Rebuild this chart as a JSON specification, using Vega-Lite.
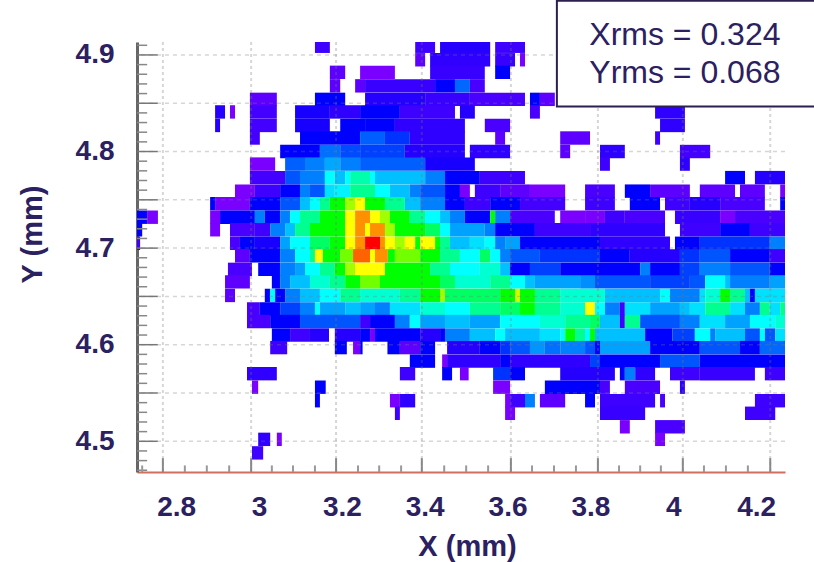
{"$schema":"https://vega.github.io/schema/vega-lite/v6.json","width":648,"height":430,"autosize":"none","padding":{"left":137,"top":42,"right":29,"bottom":90},"background":"white","config":{"view":{"stroke":null}},
"datasets":{"cells":[
{"a":3.135,"b":3.171,"y":4.909,"v":1.5},{"a":3.377,"b":3.425,"y":4.909,"v":1.5},{"a":3.437,"b":3.558,"y":4.909,"v":1.8},{"a":3.570,"b":3.642,"y":4.909,"v":1.5},
{"a":3.377,"b":3.401,"y":4.895,"v":1.2},{"a":3.413,"b":3.558,"y":4.895,"v":1.7},{"a":3.570,"b":3.618,"y":4.895,"v":1.6},{"a":3.630,"b":3.642,"y":4.895,"v":1},
{"a":3.171,"b":3.208,"y":4.882,"v":1.2},{"a":3.244,"b":3.328,"y":4.882,"v":1},{"a":3.413,"b":3.545,"y":4.882,"v":1.6},{"a":3.570,"b":3.606,"y":4.882,"v":2},
{"a":3.171,"b":3.196,"y":4.868,"v":1.2},{"a":3.232,"b":3.256,"y":4.868,"v":1.2},{"a":3.256,"b":3.425,"y":4.868,"v":1.6},{"a":3.425,"b":3.473,"y":4.868,"v":2},{"a":3.473,"b":3.509,"y":4.868,"v":2.7},{"a":3.509,"b":3.545,"y":4.868,"v":1.3},
{"a":2.978,"b":3.043,"y":4.854,"v":1.2},{"a":3.135,"b":3.208,"y":4.854,"v":2},{"a":3.256,"b":3.401,"y":4.854,"v":1.8},{"a":3.401,"b":3.509,"y":4.854,"v":1.6},{"a":3.509,"b":3.642,"y":4.854,"v":1.3},{"a":3.654,"b":3.678,"y":4.854,"v":2},{"a":3.678,"b":3.714,"y":4.854,"v":1.2},
{"a":2.894,"b":2.918,"y":4.841,"v":1.8},{"a":2.930,"b":2.942,"y":4.841,"v":1},{"a":2.978,"b":3.043,"y":4.841,"v":1.4},{"a":3.087,"b":3.171,"y":4.841,"v":1.9},{"a":3.171,"b":3.244,"y":4.841,"v":1.7},{"a":3.244,"b":3.340,"y":4.841,"v":2},{"a":3.340,"b":3.473,"y":4.841,"v":1.5},{"a":3.485,"b":3.521,"y":4.841,"v":1.8},{"a":3.654,"b":3.678,"y":4.841,"v":1.3},{"a":3.956,"b":4.028,"y":4.841,"v":1.7},
{"a":2.894,"b":2.906,"y":4.827,"v":1.8},{"a":2.978,"b":3.043,"y":4.827,"v":1.4},{"a":3.087,"b":3.171,"y":4.827,"v":1.9},{"a":3.196,"b":3.256,"y":4.827,"v":2},{"a":3.256,"b":3.328,"y":4.827,"v":2},{"a":3.328,"b":3.497,"y":4.827,"v":1.7},{"a":3.545,"b":3.606,"y":4.827,"v":1.3},{"a":3.968,"b":4.028,"y":4.827,"v":1.7},
{"a":2.978,"b":3.002,"y":4.814,"v":1.4},{"a":3.099,"b":3.244,"y":4.814,"v":2},{"a":3.244,"b":3.304,"y":4.814,"v":2.6},{"a":3.304,"b":3.364,"y":4.814,"v":2.2},{"a":3.364,"b":3.497,"y":4.814,"v":1.7},{"a":3.570,"b":3.594,"y":4.814,"v":1.2},{"a":3.727,"b":3.799,"y":4.814,"v":1.2},{"a":3.956,"b":3.968,"y":4.814,"v":1.5},
{"a":3.051,"b":3.147,"y":4.8,"v":2},{"a":3.147,"b":3.196,"y":4.8,"v":2.8},{"a":3.196,"b":3.244,"y":4.8,"v":2.4},{"a":3.244,"b":3.352,"y":4.8,"v":2.3},{"a":3.352,"b":3.497,"y":4.8,"v":1.8},{"a":3.509,"b":3.606,"y":4.8,"v":1.7},{"a":3.727,"b":3.751,"y":4.8,"v":1.2},{"a":3.823,"b":3.883,"y":4.8,"v":1.7},{"a":4.016,"b":4.089,"y":4.8,"v":1.4},
{"a":2.978,"b":3.039,"y":4.787,"v":1},{"a":3.063,"b":3.111,"y":4.787,"v":2.6},{"a":3.111,"b":3.159,"y":4.787,"v":3},{"a":3.159,"b":3.196,"y":4.787,"v":3.6},{"a":3.196,"b":3.244,"y":4.787,"v":3},{"a":3.244,"b":3.401,"y":4.787,"v":2.6},{"a":3.401,"b":3.521,"y":4.787,"v":1.9},{"a":3.823,"b":3.847,"y":4.787,"v":1.5},{"a":4.016,"b":4.04,"y":4.787,"v":1.7},
{"a":2.978,"b":3.063,"y":4.773,"v":1.4},{"a":3.063,"b":3.099,"y":4.773,"v":2.5},{"a":3.099,"b":3.159,"y":4.773,"v":3},{"a":3.159,"b":3.183,"y":4.773,"v":5},{"a":3.183,"b":3.208,"y":4.773,"v":4},{"a":3.208,"b":3.220,"y":4.773,"v":5},{"a":3.220,"b":3.268,"y":4.773,"v":5.8},{"a":3.268,"b":3.280,"y":4.773,"v":5},{"a":3.280,"b":3.401,"y":4.773,"v":4},{"a":3.401,"b":3.449,"y":4.773,"v":3},{"a":3.449,"b":3.533,"y":4.773,"v":2},{"a":3.533,"b":3.642,"y":4.773,"v":1.5},{"a":4.125,"b":4.173,"y":4.773,"v":2},{"a":4.197,"b":4.270,"y":4.773,"v":1.8},
{"a":2.942,"b":2.990,"y":4.759,"v":1},{"a":2.990,"b":3.051,"y":4.759,"v":1.5},{"a":3.051,"b":3.099,"y":4.759,"v":2},{"a":3.099,"b":3.123,"y":4.759,"v":3},{"a":3.123,"b":3.159,"y":4.759,"v":2.5},{"a":3.159,"b":3.183,"y":4.759,"v":4.5},{"a":3.183,"b":3.220,"y":4.759,"v":4.8},{"a":3.220,"b":3.280,"y":4.759,"v":6},{"a":3.280,"b":3.316,"y":4.759,"v":5},{"a":3.316,"b":3.364,"y":4.759,"v":4},{"a":3.364,"b":3.389,"y":4.759,"v":3},{"a":3.389,"b":3.449,"y":4.759,"v":2.5},{"a":3.449,"b":3.485,"y":4.759,"v":2},{"a":3.485,"b":3.509,"y":4.759,"v":1},{"a":3.521,"b":3.582,"y":4.759,"v":1.5},{"a":3.582,"b":3.654,"y":4.759,"v":1.2},{"a":3.654,"b":3.739,"y":4.759,"v":1},{"a":3.787,"b":3.859,"y":4.759,"v":1.3},{"a":3.883,"b":3.944,"y":4.759,"v":2},{"a":3.944,"b":4.04,"y":4.759,"v":1.2},{"a":4.064,"b":4.149,"y":4.759,"v":1.2},{"a":4.161,"b":4.221,"y":4.759,"v":1.2},{"a":4.258,"b":4.270,"y":4.759,"v":1},
{"a":2.882,"b":2.894,"y":4.746,"v":2},{"a":2.894,"b":2.978,"y":4.746,"v":1},{"a":2.978,"b":3.051,"y":4.746,"v":2},{"a":3.051,"b":3.099,"y":4.746,"v":2.5},{"a":3.099,"b":3.123,"y":4.746,"v":4},{"a":3.123,"b":3.147,"y":4.746,"v":5},{"a":3.147,"b":3.171,"y":4.746,"v":6},{"a":3.171,"b":3.208,"y":4.746,"v":7},{"a":3.208,"b":3.232,"y":4.746,"v":8},{"a":3.232,"b":3.256,"y":4.746,"v":9},{"a":3.256,"b":3.304,"y":4.746,"v":7},{"a":3.304,"b":3.352,"y":4.746,"v":6},{"a":3.352,"b":3.389,"y":4.746,"v":4},{"a":3.389,"b":3.449,"y":4.746,"v":3},{"a":3.449,"b":3.497,"y":4.746,"v":2},{"a":3.497,"b":3.558,"y":4.746,"v":1.5},{"a":3.558,"b":3.630,"y":4.746,"v":2},{"a":3.630,"b":3.739,"y":4.746,"v":1.4},{"a":3.787,"b":3.859,"y":4.746,"v":1.5},{"a":3.895,"b":3.968,"y":4.746,"v":2},{"a":3.980,"b":4.04,"y":4.746,"v":1.5},{"a":4.04,"b":4.113,"y":4.746,"v":1.8},{"a":4.113,"b":4.221,"y":4.746,"v":1.3},{"a":4.258,"b":4.270,"y":4.746,"v":2},
{"a":2.705,"b":2.730,"y":4.732,"v":2},{"a":2.730,"b":2.756,"y":4.732,"v":1},{"a":2.882,"b":2.906,"y":4.732,"v":1},{"a":2.906,"b":2.990,"y":4.732,"v":2},{"a":2.990,"b":3.014,"y":4.732,"v":3},{"a":3.014,"b":3.051,"y":4.732,"v":2},{"a":3.051,"b":3.075,"y":4.732,"v":3},{"a":3.075,"b":3.099,"y":4.732,"v":5},{"a":3.099,"b":3.147,"y":4.732,"v":6},{"a":3.147,"b":3.208,"y":4.732,"v":7},{"a":3.208,"b":3.232,"y":4.732,"v":9},{"a":3.232,"b":3.268,"y":4.732,"v":10},{"a":3.268,"b":3.292,"y":4.732,"v":9},{"a":3.292,"b":3.316,"y":4.732,"v":8},{"a":3.316,"b":3.364,"y":4.732,"v":7},{"a":3.364,"b":3.401,"y":4.732,"v":6},{"a":3.401,"b":3.437,"y":4.732,"v":5},{"a":3.437,"b":3.461,"y":4.732,"v":4},{"a":3.461,"b":3.497,"y":4.732,"v":3},{"a":3.497,"b":3.558,"y":4.732,"v":2},{"a":3.558,"b":3.570,"y":4.732,"v":7},{"a":3.570,"b":3.606,"y":4.732,"v":3},{"a":3.606,"b":3.714,"y":4.732,"v":1.3},{"a":3.727,"b":3.787,"y":4.732,"v":1},{"a":3.787,"b":3.835,"y":4.732,"v":1},{"a":3.835,"b":3.883,"y":4.732,"v":1.5},{"a":3.883,"b":3.980,"y":4.732,"v":1.3},{"a":4.004,"b":4.113,"y":4.732,"v":1.6},{"a":4.113,"b":4.149,"y":4.732,"v":1},{"a":4.149,"b":4.270,"y":4.732,"v":1.3},
{"a":2.705,"b":2.718,"y":4.719,"v":2},{"a":2.882,"b":2.906,"y":4.719,"v":1},{"a":2.930,"b":2.990,"y":4.719,"v":1.3},{"a":2.990,"b":3.027,"y":4.719,"v":1.5},{"a":3.027,"b":3.063,"y":4.719,"v":3},{"a":3.063,"b":3.087,"y":4.719,"v":4},{"a":3.087,"b":3.123,"y":4.719,"v":6},{"a":3.123,"b":3.208,"y":4.719,"v":7},{"a":3.208,"b":3.232,"y":4.719,"v":9},{"a":3.232,"b":3.256,"y":4.719,"v":10},{"a":3.256,"b":3.268,"y":4.719,"v":9},{"a":3.268,"b":3.304,"y":4.719,"v":10},{"a":3.304,"b":3.328,"y":4.719,"v":8},{"a":3.328,"b":3.401,"y":4.719,"v":7},{"a":3.401,"b":3.437,"y":4.719,"v":6.5},{"a":3.437,"b":3.461,"y":4.719,"v":5},{"a":3.461,"b":3.545,"y":4.719,"v":3.5},{"a":3.545,"b":3.570,"y":4.719,"v":3},{"a":3.570,"b":3.666,"y":4.719,"v":2},{"a":3.666,"b":3.799,"y":4.719,"v":1.5},{"a":3.799,"b":3.980,"y":4.719,"v":1.7},{"a":4.016,"b":4.113,"y":4.719,"v":1.5},{"a":4.113,"b":4.185,"y":4.719,"v":2},{"a":4.185,"b":4.270,"y":4.719,"v":1.5},
{"a":2.705,"b":2.713,"y":4.705,"v":1.5},{"a":2.930,"b":2.954,"y":4.705,"v":1.3},{"a":2.954,"b":2.990,"y":4.705,"v":2},{"a":2.990,"b":3.051,"y":4.705,"v":1.9},{"a":3.051,"b":3.075,"y":4.705,"v":3.5},{"a":3.075,"b":3.123,"y":4.705,"v":5},{"a":3.123,"b":3.171,"y":4.705,"v":6.5},{"a":3.171,"b":3.208,"y":4.705,"v":7},{"a":3.208,"b":3.232,"y":4.705,"v":9},{"a":3.232,"b":3.256,"y":4.705,"v":10},{"a":3.256,"b":3.292,"y":4.705,"v":11},{"a":3.292,"b":3.304,"y":4.705,"v":10},{"a":3.304,"b":3.328,"y":4.705,"v":9},{"a":3.328,"b":3.352,"y":4.705,"v":8},{"a":3.352,"b":3.377,"y":4.705,"v":9},{"a":3.377,"b":3.389,"y":4.705,"v":7},{"a":3.389,"b":3.425,"y":4.705,"v":9},{"a":3.425,"b":3.437,"y":4.705,"v":7},{"a":3.437,"b":3.461,"y":4.705,"v":6},{"a":3.461,"b":3.509,"y":4.705,"v":4},{"a":3.509,"b":3.545,"y":4.705,"v":4.5},{"a":3.545,"b":3.570,"y":4.705,"v":5},{"a":3.570,"b":3.594,"y":4.705,"v":3},{"a":3.594,"b":3.630,"y":4.705,"v":3.5},{"a":3.630,"b":3.823,"y":4.705,"v":2},{"a":3.823,"b":3.992,"y":4.705,"v":1.7},{"a":4.004,"b":4.064,"y":4.705,"v":2},{"a":4.064,"b":4.233,"y":4.705,"v":2.2},{"a":4.233,"b":4.270,"y":4.705,"v":3},
{"a":2.942,"b":2.978,"y":4.692,"v":1.2},{"a":2.978,"b":3.051,"y":4.692,"v":2},{"a":3.051,"b":3.087,"y":4.692,"v":3},{"a":3.087,"b":3.123,"y":4.692,"v":5},{"a":3.123,"b":3.135,"y":4.692,"v":6},{"a":3.135,"b":3.154,"y":4.692,"v":9},{"a":3.154,"b":3.196,"y":4.692,"v":7},{"a":3.196,"b":3.227,"y":4.692,"v":7.5},{"a":3.227,"b":3.268,"y":4.692,"v":10.5},{"a":3.268,"b":3.280,"y":4.692,"v":9},{"a":3.280,"b":3.311,"y":4.692,"v":10},{"a":3.311,"b":3.328,"y":4.692,"v":7},{"a":3.328,"b":3.389,"y":4.692,"v":7.5},{"a":3.389,"b":3.437,"y":4.692,"v":7},{"a":3.437,"b":3.485,"y":4.692,"v":6},{"a":3.485,"b":3.533,"y":4.692,"v":5},{"a":3.533,"b":3.558,"y":4.692,"v":6.5},{"a":3.558,"b":3.582,"y":4.692,"v":5},{"a":3.582,"b":3.606,"y":4.692,"v":3},{"a":3.606,"b":3.678,"y":4.692,"v":2.5},{"a":3.678,"b":3.823,"y":4.692,"v":2.2},{"a":3.823,"b":3.895,"y":4.692,"v":2},{"a":3.895,"b":4.016,"y":4.692,"v":1.8},{"a":4.016,"b":4.064,"y":4.692,"v":2.2},{"a":4.064,"b":4.137,"y":4.692,"v":2.5},{"a":4.137,"b":4.233,"y":4.692,"v":2},{"a":4.233,"b":4.270,"y":4.692,"v":1.5},
{"a":2.925,"b":2.983,"y":4.678,"v":1.3},{"a":2.998,"b":3.051,"y":4.678,"v":2},{"a":3.051,"b":3.087,"y":4.678,"v":3},{"a":3.087,"b":3.111,"y":4.678,"v":3.5},{"a":3.111,"b":3.147,"y":4.678,"v":5},{"a":3.147,"b":3.183,"y":4.678,"v":6},{"a":3.183,"b":3.208,"y":4.678,"v":7},{"a":3.208,"b":3.232,"y":4.678,"v":8},{"a":3.232,"b":3.304,"y":4.678,"v":9},{"a":3.304,"b":3.413,"y":4.678,"v":7},{"a":3.413,"b":3.461,"y":4.678,"v":6},{"a":3.461,"b":3.533,"y":4.678,"v":5},{"a":3.533,"b":3.582,"y":4.678,"v":5.5},{"a":3.582,"b":3.606,"y":4.678,"v":4},{"a":3.606,"b":3.654,"y":4.678,"v":2},{"a":3.654,"b":3.727,"y":4.678,"v":2.3},{"a":3.727,"b":3.920,"y":4.678,"v":2},{"a":3.920,"b":3.944,"y":4.678,"v":3},{"a":3.944,"b":4.016,"y":4.678,"v":2},{"a":4.016,"b":4.064,"y":4.678,"v":2.3},{"a":4.064,"b":4.137,"y":4.678,"v":3},{"a":4.137,"b":4.233,"y":4.678,"v":2.5},{"a":4.233,"b":4.270,"y":4.678,"v":2},
{"a":2.918,"b":2.978,"y":4.665,"v":1.2},{"a":3.031,"b":3.051,"y":4.665,"v":2},{"a":3.051,"b":3.075,"y":4.665,"v":3},{"a":3.075,"b":3.123,"y":4.665,"v":4},{"a":3.123,"b":3.171,"y":4.665,"v":5.5},{"a":3.171,"b":3.208,"y":4.665,"v":6},{"a":3.208,"b":3.244,"y":4.665,"v":7},{"a":3.244,"b":3.292,"y":4.665,"v":7.5},{"a":3.292,"b":3.437,"y":4.665,"v":7},{"a":3.437,"b":3.473,"y":4.665,"v":6.5},{"a":3.473,"b":3.558,"y":4.665,"v":5.5},{"a":3.558,"b":3.606,"y":4.665,"v":6},{"a":3.606,"b":3.642,"y":4.665,"v":5},{"a":3.642,"b":3.666,"y":4.665,"v":4},{"a":3.666,"b":3.775,"y":4.665,"v":3.5},{"a":3.775,"b":3.811,"y":4.665,"v":3.2},{"a":3.811,"b":3.944,"y":4.665,"v":2.5},{"a":3.944,"b":4.04,"y":4.665,"v":2.3},{"a":4.04,"b":4.077,"y":4.665,"v":2.5},{"a":4.077,"b":4.125,"y":4.665,"v":5},{"a":4.125,"b":4.137,"y":4.665,"v":4},{"a":4.137,"b":4.233,"y":4.665,"v":3},{"a":4.233,"b":4.270,"y":4.665,"v":3.5},
{"a":2.918,"b":2.942,"y":4.651,"v":1.2},{"a":3.014,"b":3.027,"y":4.651,"v":2},{"a":3.027,"b":3.039,"y":4.651,"v":5},{"a":3.039,"b":3.063,"y":4.651,"v":2},{"a":3.063,"b":3.099,"y":4.651,"v":3},{"a":3.099,"b":3.147,"y":4.651,"v":4},{"a":3.147,"b":3.196,"y":4.651,"v":5},{"a":3.196,"b":3.244,"y":4.651,"v":6},{"a":3.244,"b":3.340,"y":4.651,"v":5.5},{"a":3.340,"b":3.389,"y":4.651,"v":6},{"a":3.389,"b":3.437,"y":4.651,"v":7},{"a":3.437,"b":3.449,"y":4.651,"v":8},{"a":3.449,"b":3.582,"y":4.651,"v":6.5},{"a":3.582,"b":3.618,"y":4.651,"v":7},{"a":3.618,"b":3.630,"y":4.651,"v":8.5},{"a":3.630,"b":3.666,"y":4.651,"v":7},{"a":3.666,"b":3.727,"y":4.651,"v":6},{"a":3.727,"b":3.835,"y":4.651,"v":5.5},{"a":3.835,"b":3.968,"y":4.651,"v":4},{"a":3.968,"b":3.992,"y":4.651,"v":5},{"a":3.992,"b":4.064,"y":4.651,"v":3},{"a":4.064,"b":4.077,"y":4.651,"v":4.5},{"a":4.077,"b":4.113,"y":4.651,"v":5.5},{"a":4.113,"b":4.137,"y":4.651,"v":7},{"a":4.137,"b":4.173,"y":4.651,"v":6},{"a":4.173,"b":4.185,"y":4.651,"v":4},{"a":4.185,"b":4.197,"y":4.651,"v":2},{"a":4.197,"b":4.270,"y":4.651,"v":4.5},
{"a":2.971,"b":3.002,"y":4.637,"v":1.3},{"a":3.002,"b":3.051,"y":4.637,"v":2},{"a":3.051,"b":3.099,"y":4.637,"v":2.3},{"a":3.099,"b":3.135,"y":4.637,"v":3},{"a":3.135,"b":3.147,"y":4.637,"v":5},{"a":3.147,"b":3.208,"y":4.637,"v":3.5},{"a":3.208,"b":3.244,"y":4.637,"v":4},{"a":3.244,"b":3.280,"y":4.637,"v":3.5},{"a":3.280,"b":3.316,"y":4.637,"v":3},{"a":3.316,"b":3.389,"y":4.637,"v":4.5},{"a":3.389,"b":3.449,"y":4.637,"v":5.5},{"a":3.449,"b":3.509,"y":4.637,"v":5},{"a":3.509,"b":3.582,"y":4.637,"v":6},{"a":3.582,"b":3.630,"y":4.637,"v":6.5},{"a":3.630,"b":3.666,"y":4.637,"v":7},{"a":3.666,"b":3.727,"y":4.637,"v":6},{"a":3.727,"b":3.787,"y":4.637,"v":5.5},{"a":3.787,"b":3.811,"y":4.637,"v":9},{"a":3.811,"b":3.835,"y":4.637,"v":5},{"a":3.835,"b":3.871,"y":4.637,"v":3},{"a":3.871,"b":3.883,"y":4.637,"v":1.5},{"a":3.883,"b":3.944,"y":4.637,"v":4.5},{"a":3.944,"b":4.016,"y":4.637,"v":3.5},{"a":4.016,"b":4.04,"y":4.637,"v":4},{"a":4.04,"b":4.077,"y":4.637,"v":4.5},{"a":4.077,"b":4.137,"y":4.637,"v":6},{"a":4.137,"b":4.173,"y":4.637,"v":4.5},{"a":4.173,"b":4.209,"y":4.637,"v":3},{"a":4.209,"b":4.233,"y":4.637,"v":6},{"a":4.233,"b":4.258,"y":4.637,"v":4.5},{"a":4.258,"b":4.270,"y":4.637,"v":6},
{"a":2.971,"b":3.027,"y":4.624,"v":1.3},{"a":3.027,"b":3.099,"y":4.624,"v":2},{"a":3.099,"b":3.244,"y":4.624,"v":2.5},{"a":3.244,"b":3.268,"y":4.624,"v":1.5},{"a":3.268,"b":3.328,"y":4.624,"v":2},{"a":3.328,"b":3.364,"y":4.624,"v":3},{"a":3.364,"b":3.389,"y":4.624,"v":5},{"a":3.389,"b":3.449,"y":4.624,"v":3.5},{"a":3.449,"b":3.509,"y":4.624,"v":4},{"a":3.509,"b":3.582,"y":4.624,"v":3.5},{"a":3.582,"b":3.678,"y":4.624,"v":5},{"a":3.678,"b":3.739,"y":4.624,"v":5.5},{"a":3.739,"b":3.799,"y":4.624,"v":6},{"a":3.799,"b":3.823,"y":4.624,"v":6.5},{"a":3.823,"b":3.871,"y":4.624,"v":4},{"a":3.871,"b":3.883,"y":4.624,"v":1.5},{"a":3.883,"b":3.920,"y":4.624,"v":6},{"a":3.920,"b":4.016,"y":4.624,"v":2.5},{"a":4.016,"b":4.064,"y":4.624,"v":3},{"a":4.064,"b":4.125,"y":4.624,"v":4.5},{"a":4.125,"b":4.185,"y":4.624,"v":3.5},{"a":4.185,"b":4.246,"y":4.624,"v":5},{"a":4.246,"b":4.270,"y":4.624,"v":5.5},
{"a":3.031,"b":3.075,"y":4.61,"v":2},{"a":3.075,"b":3.123,"y":4.61,"v":1.5},{"a":3.123,"b":3.169,"y":4.61,"v":1.8},{"a":3.183,"b":3.244,"y":4.61,"v":1.8},{"a":3.244,"b":3.268,"y":4.61,"v":2},{"a":3.268,"b":3.280,"y":4.61,"v":1},{"a":3.280,"b":3.389,"y":4.61,"v":2},{"a":3.389,"b":3.437,"y":4.61,"v":1.8},{"a":3.437,"b":3.449,"y":4.61,"v":2},{"a":3.449,"b":3.509,"y":4.61,"v":3},{"a":3.509,"b":3.570,"y":4.61,"v":4},{"a":3.570,"b":3.594,"y":4.61,"v":5},{"a":3.594,"b":3.678,"y":4.61,"v":4},{"a":3.678,"b":3.727,"y":4.61,"v":4.5},{"a":3.727,"b":3.739,"y":4.61,"v":5},{"a":3.739,"b":3.763,"y":4.61,"v":7},{"a":3.763,"b":3.787,"y":4.61,"v":6},{"a":3.787,"b":3.799,"y":4.61,"v":5},{"a":3.799,"b":3.811,"y":4.61,"v":7},{"a":3.811,"b":3.932,"y":4.61,"v":4},{"a":3.932,"b":3.998,"y":4.61,"v":2},{"a":3.998,"b":4.052,"y":4.61,"v":2.3},{"a":4.052,"b":4.089,"y":4.61,"v":5},{"a":4.089,"b":4.101,"y":4.61,"v":3},{"a":4.101,"b":4.173,"y":4.61,"v":4},{"a":4.173,"b":4.209,"y":4.61,"v":2.5},{"a":4.209,"b":4.221,"y":4.61,"v":5},{"a":4.221,"b":4.246,"y":4.61,"v":2.5},{"a":4.246,"b":4.270,"y":4.61,"v":4.5},
{"a":3.027,"b":3.068,"y":4.597,"v":1.5},{"a":3.183,"b":3.212,"y":4.597,"v":2},{"a":3.227,"b":3.244,"y":4.597,"v":1},{"a":3.244,"b":3.25,"y":4.597,"v":2},{"a":3.310,"b":3.340,"y":4.597,"v":2},{"a":3.340,"b":3.389,"y":4.597,"v":1.2},{"a":3.389,"b":3.425,"y":4.597,"v":2},{"a":3.454,"b":3.533,"y":4.597,"v":1.8},{"a":3.533,"b":3.582,"y":4.597,"v":2},{"a":3.582,"b":3.606,"y":4.597,"v":2.2},{"a":3.606,"b":3.654,"y":4.597,"v":2.5},{"a":3.654,"b":3.690,"y":4.597,"v":3.3},{"a":3.690,"b":3.727,"y":4.597,"v":2.8},{"a":3.727,"b":3.787,"y":4.597,"v":3},{"a":3.787,"b":3.811,"y":4.597,"v":2.5},{"a":3.811,"b":3.823,"y":4.597,"v":2},{"a":3.823,"b":3.944,"y":4.597,"v":3.5},{"a":3.944,"b":4.064,"y":4.597,"v":2},{"a":4.064,"b":4.161,"y":4.597,"v":2.5},{"a":4.161,"b":4.209,"y":4.597,"v":2},{"a":4.209,"b":4.270,"y":4.597,"v":2.7},
{"a":3.364,"b":3.425,"y":4.583,"v":2},{"a":3.442,"b":3.454,"y":4.583,"v":1},{"a":3.454,"b":3.582,"y":4.583,"v":1.7},{"a":3.582,"b":3.606,"y":4.583,"v":2},{"a":3.606,"b":3.799,"y":4.583,"v":1.7},{"a":3.799,"b":3.823,"y":4.583,"v":2.3},{"a":3.823,"b":3.968,"y":4.583,"v":2},{"a":3.968,"b":4.064,"y":4.583,"v":2.5},{"a":4.064,"b":4.270,"y":4.583,"v":2},
{"a":2.971,"b":3.043,"y":4.57,"v":1.7},{"a":3.340,"b":3.377,"y":4.57,"v":1.5},{"a":3.442,"b":3.466,"y":4.57,"v":2},{"a":3.485,"b":3.506,"y":4.57,"v":1},{"a":3.565,"b":3.606,"y":4.57,"v":2.2},{"a":3.606,"b":3.642,"y":4.57,"v":2},{"a":3.727,"b":3.859,"y":4.57,"v":1.8},{"a":3.871,"b":3.883,"y":4.57,"v":2},{"a":3.883,"b":3.908,"y":4.57,"v":3},{"a":3.908,"b":3.956,"y":4.57,"v":1.7},{"a":3.992,"b":4.064,"y":4.57,"v":1.5},{"a":4.064,"b":4.197,"y":4.57,"v":1.6},{"a":4.221,"b":4.270,"y":4.57,"v":1.5},
{"a":2.983,"b":2.998,"y":4.556,"v":1},{"a":3.135,"b":3.161,"y":4.556,"v":2},{"a":3.565,"b":3.606,"y":4.556,"v":1},{"a":3.690,"b":3.823,"y":4.556,"v":2},{"a":3.823,"b":3.847,"y":4.556,"v":1.3},{"a":3.883,"b":3.968,"y":4.556,"v":1.3},{"a":4.016,"b":4.028,"y":4.556,"v":1.7},
{"a":3.135,"b":3.147,"y":4.542,"v":2},{"a":3.316,"b":3.340,"y":4.542,"v":1},{"a":3.340,"b":3.377,"y":4.542,"v":1.7},{"a":3.594,"b":3.606,"y":4.542,"v":1},{"a":3.606,"b":3.642,"y":4.542,"v":1.5},{"a":3.642,"b":3.666,"y":4.542,"v":3},{"a":3.678,"b":3.739,"y":4.542,"v":1.2},{"a":3.787,"b":3.811,"y":4.542,"v":2},{"a":3.823,"b":3.956,"y":4.542,"v":1.5},{"a":3.968,"b":3.980,"y":4.542,"v":1.3},{"a":4.197,"b":4.270,"y":4.542,"v":1.5},
{"a":3.328,"b":3.340,"y":4.529,"v":1.5},{"a":3.594,"b":3.618,"y":4.529,"v":1},{"a":3.823,"b":3.932,"y":4.529,"v":1.6},{"a":4.173,"b":4.246,"y":4.529,"v":1.5},
{"a":3.871,"b":3.895,"y":4.515,"v":1},{"a":3.956,"b":4.028,"y":4.515,"v":1.3},
{"a":2.998,"b":3.027,"y":4.502,"v":1.7},{"a":3.043,"b":3.055,"y":4.502,"v":1},{"a":3.956,"b":3.980,"y":4.502,"v":1},
{"a":2.983,"b":3.010,"y":4.488,"v":1.5}
],
"hgrid":[{"gy":4.9},{"gy":4.85},{"gy":4.8},{"gy":4.75},{"gy":4.7},{"gy":4.65},{"gy":4.6},{"gy":4.55},{"gy":4.5}],
"vgrid":[{"gx":2.768},{"gx":2.981},{"gx":3.186},{"gx":3.393},{"gx":3.608},{"gx":3.818},{"gx":4.023},{"gx":4.234}],
"lminor":[{"gy":4.91},{"gy":4.89},{"gy":4.88},{"gy":4.87},{"gy":4.86},{"gy":4.84},{"gy":4.83},{"gy":4.82},{"gy":4.81},{"gy":4.79},{"gy":4.78},{"gy":4.77},{"gy":4.76},{"gy":4.74},{"gy":4.73},{"gy":4.72},{"gy":4.71},{"gy":4.69},{"gy":4.68},{"gy":4.67},{"gy":4.66},{"gy":4.64},{"gy":4.63},{"gy":4.62},{"gy":4.61},{"gy":4.59},{"gy":4.58},{"gy":4.57},{"gy":4.56},{"gy":4.54},{"gy":4.53},{"gy":4.52},{"gy":4.51},{"gy":4.49},{"gy":4.48},{"gy":4.47}],
"bminor":[{"gx":2.718},{"gx":2.821},{"gx":2.874},{"gx":2.928},{"gx":3.031},{"gx":3.082},{"gx":3.135},{"gx":3.239},{"gx":3.29},{"gx":3.343},{"gx":3.447},{"gx":3.5},{"gx":3.553},{"gx":3.659},{"gx":3.712},{"gx":3.765},{"gx":3.869},{"gx":3.92},{"gx":3.97},{"gx":4.074},{"gx":4.127},{"gx":4.18}],
"stats":[{"tx":4.028,"ty":4.9207,"t":"Xrms = 0.324"},{"tx":4.028,"ty":4.8814,"t":"Yrms = 0.068"}],
"box":[{"x0":3.719,"x1":4.36,"y0":4.956,"y1":4.8465}]
},
"layer":[
{"data":{"name":"cells"},"mark":{"type":"rect","height":13.4,"clip":true},"encoding":{
"x":{"field":"a","type":"quantitative","scale":{"domain":[2.7055,4.2696],"nice":false,"zero":false},"axis":{"values":[2.8,3,3.2,3.4,3.6,3.8,4,4.2],"format":".1~f","grid":false,"ticks":false,"domainColor":"#d0705f","domainWidth":2,"labelFont":"Liberation Sans","labelFontSize":28,"labelFontWeight":"bold","labelColor":"#2b2060","labelPadding":21,"labelFlush":false,"title":"X (mm)","titleFont":"Liberation Sans","titleFontSize":29,"titleFontWeight":"bold","titleColor":"#2b2060","titleX":330,"titleY":60,"titleAnchor":"middle"}},
"x2":{"field":"b"},
"y":{"field":"y","type":"quantitative","scale":{"domain":[4.4682,4.9134],"nice":false,"zero":false},"axis":{"values":[4.5,4.6,4.7,4.8,4.9],"format":".1f","grid":false,"ticks":false,"domainColor":"#666666","domainWidth":3,"labelFont":"Liberation Sans","labelFontSize":28,"labelFontWeight":"bold","labelColor":"#2b2060","labelPadding":23,"title":"Y (mm)","titleFont":"Liberation Sans","titleFontSize":29,"titleFontWeight":"bold","titleColor":"#2b2060","titleX":-90,"titleY":192,"titleAnchor":"middle"}},
"color":{"field":"v","type":"quantitative","legend":null,"scale":{"domain":[1,1.3,2,3,4,5,6,7,8,9,10,11],"range":["#7a00ff","#4a00ff","#0000ff","#0080ff","#00c0ff","#00ffff","#00ff90","#00ff00","#a0ff00","#ffff00","#ff9000","#ff0000"]}}}},
{"data":{"name":"hgrid"},"mark":{"type":"rule","color":"#777777","opacity":0.3,"strokeDash":[4,4],"strokeWidth":1.5},"encoding":{"y":{"field":"gy","type":"quantitative"}}},
{"data":{"name":"vgrid"},"mark":{"type":"rule","color":"#777777","opacity":0.3,"strokeDash":[3,3],"strokeWidth":2},"encoding":{"x":{"field":"gx","type":"quantitative"}}},
{"data":{"name":"hgrid"},"mark":{"type":"rule","color":"#777777","strokeWidth":1.5},"encoding":{"y":{"field":"gy","type":"quantitative"},"x":{"datum":2.7055},"x2":{"datum":2.7555}}},
{"data":{"name":"lminor"},"mark":{"type":"rule","color":"#888888","strokeWidth":1.5},"encoding":{"y":{"field":"gy","type":"quantitative"},"x":{"datum":2.7055},"x2":{"datum":2.73}}},
{"data":{"name":"vgrid"},"mark":{"type":"rule","color":"#888888","strokeWidth":2},"encoding":{"x":{"field":"gx","type":"quantitative"},"y":{"datum":4.4682},"y2":{"datum":4.4825}}},
{"data":{"name":"bminor"},"mark":{"type":"rule","color":"#999999","strokeWidth":2},"encoding":{"x":{"field":"gx","type":"quantitative"},"y":{"datum":4.4682},"y2":{"datum":4.475}}},
{"mark":{"type":"rule","color":"#d0705f","strokeWidth":1.5},"encoding":{"x":{"datum":4.2696}}},
{"mark":{"type":"rule","color":"#dddddd","strokeWidth":3},"encoding":{"y":{"datum":4.9134}}},
{"data":{"name":"box"},"mark":{"type":"rect","fill":"white","stroke":"#2b2050","strokeWidth":2,"clip":false},"encoding":{"x":{"field":"x0","type":"quantitative"},"x2":{"field":"x1"},"y":{"field":"y0","type":"quantitative"},"y2":{"field":"y1"}}},
{"data":{"name":"stats"},"mark":{"type":"text","font":"Liberation Sans","fontSize":32,"fontWeight":"normal","color":"#2b2060","align":"center","baseline":"middle"},"encoding":{"x":{"field":"tx","type":"quantitative"},"y":{"field":"ty","type":"quantitative"},"text":{"field":"t"}}}
]}
